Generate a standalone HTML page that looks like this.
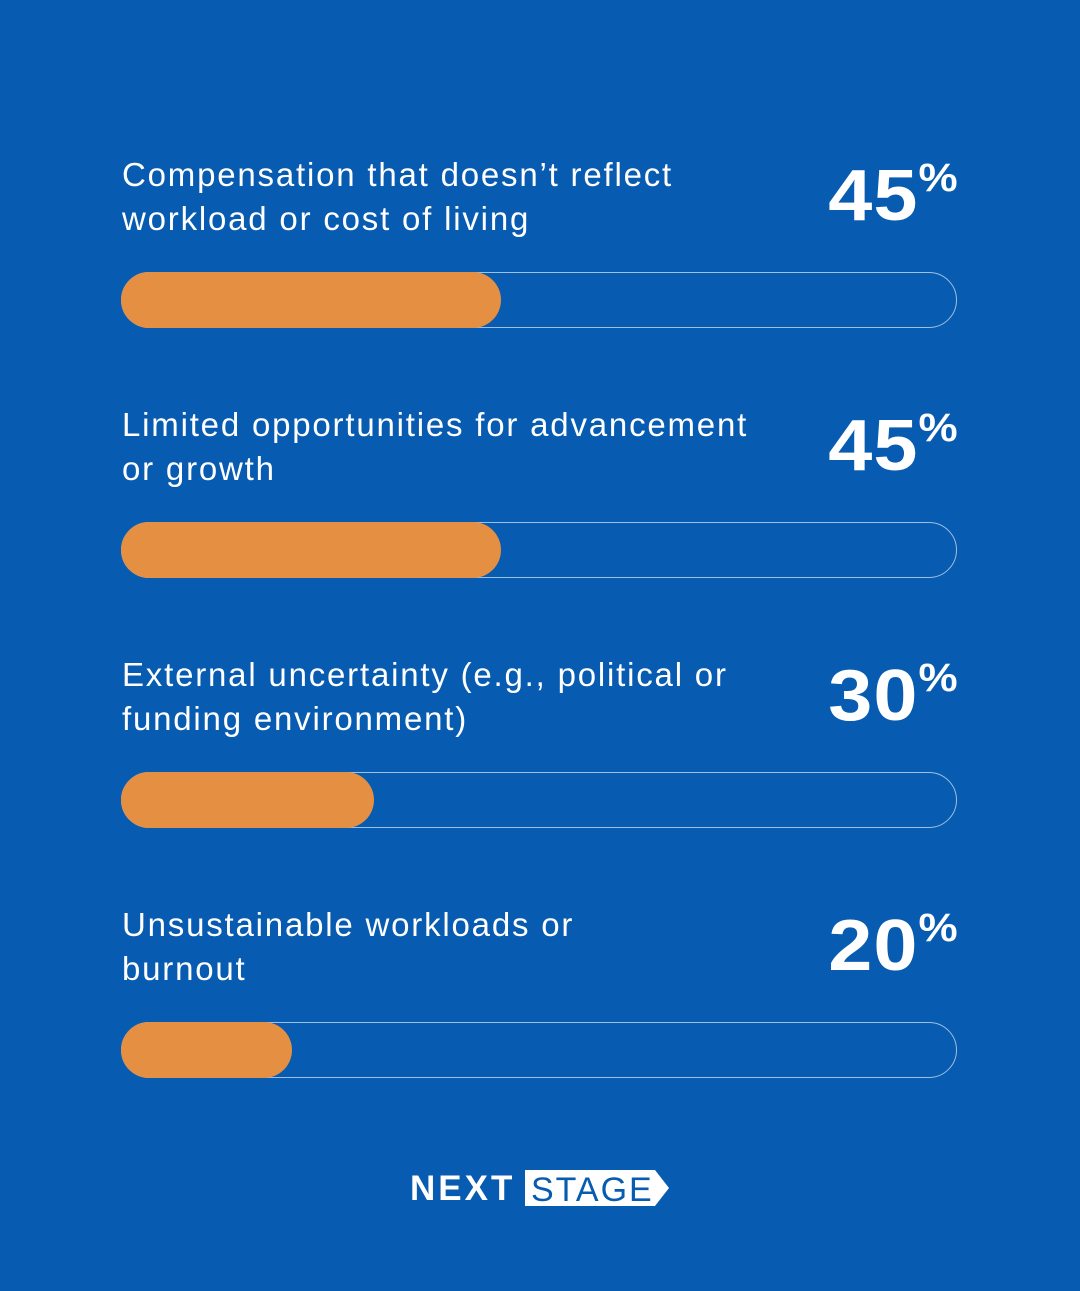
<!DOCTYPE html>
<html><head><style>
body{margin:0;width:1080px;height:1291px;background:#075bb0;font-family:"Liberation Sans",sans-serif;position:relative;overflow:hidden}
.lbl{position:absolute;left:122px;color:#fff;font-size:33px;line-height:44px;letter-spacing:1.8px}
.pct{position:absolute;right:122px;color:#fff;font-weight:bold;font-size:72px;line-height:1;letter-spacing:1px;transform:scaleX(1.1);transform-origin:right top}
.pct span{font-size:40px;vertical-align:top;position:relative;top:-2px;letter-spacing:0}
.bar{position:absolute;left:121px;width:834px;height:54px;border:1px solid #9fbfe3;border-radius:28px}
.fill{position:absolute;left:121px;height:56px;background:#e48f41;border-radius:28px}
</style></head><body>
<div class="lbl" style="top:153px">Compensation that doesn’t reflect<br>workload or cost of living</div>
<div class="pct" style="top:160px">45<span>%</span></div>
<div class="bar" style="top:272px"></div><div class="fill" style="top:272px;width:380px"></div>

<div class="lbl" style="top:403px">Limited opportunities for advancement<br>or growth</div>
<div class="pct" style="top:410px">45<span>%</span></div>
<div class="bar" style="top:522px"></div><div class="fill" style="top:522px;width:380px"></div>

<div class="lbl" style="top:653px">External uncertainty (e.g., political or<br>funding environment)</div>
<div class="pct" style="top:660px">30<span>%</span></div>
<div class="bar" style="top:772px"></div><div class="fill" style="top:772px;width:253px"></div>

<div class="lbl" style="top:903px">Unsustainable workloads or<br>burnout</div>
<div class="pct" style="top:910px">20<span>%</span></div>
<div class="bar" style="top:1022px"></div><div class="fill" style="top:1022px;width:171px"></div>

<div style="position:absolute;left:410px;top:1170px;color:#fff;font-weight:bold;font-size:35px;line-height:37px;letter-spacing:3px">NEXT</div>
<svg style="position:absolute;left:525px;top:1170px" width="145" height="37"><polygon points="0,0 130,0 144,18 130,36 0,36" fill="#fff"/><text x="6" y="31" font-family="Liberation Sans" font-size="34" fill="#075bb0" letter-spacing="2">STAGE</text></svg>
</body></html>
